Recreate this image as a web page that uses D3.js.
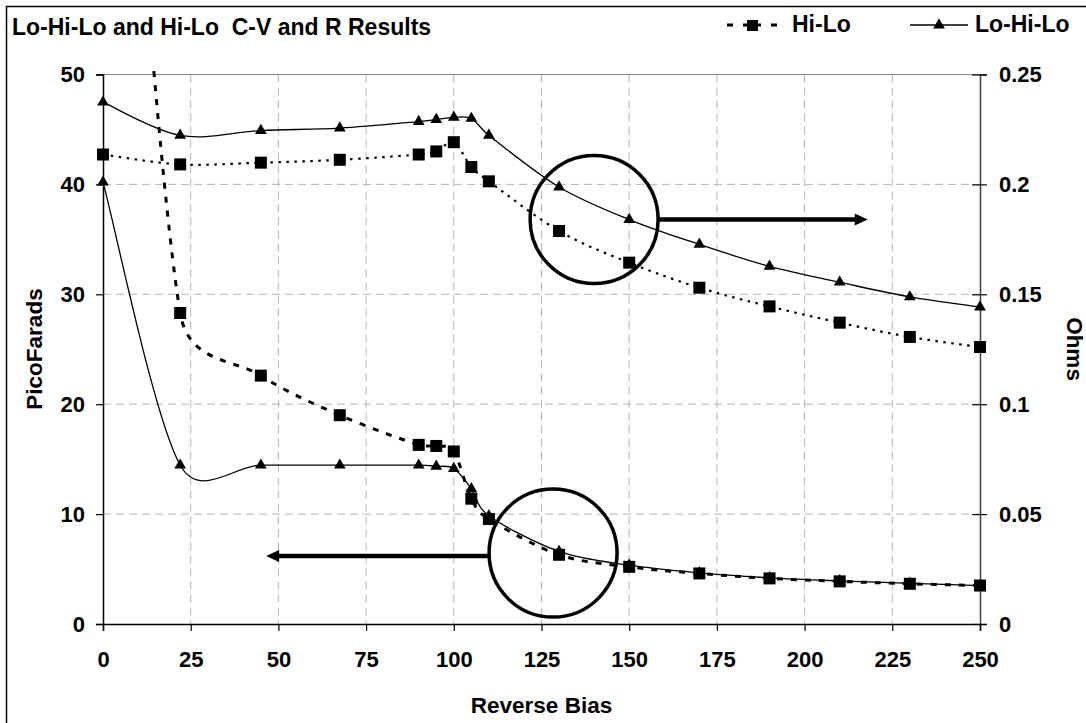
<!DOCTYPE html>
<html><head><meta charset="utf-8">
<script src="https://cdn.jsdelivr.net/npm/d3@7"></script>
<style>
body{margin:0;background:#fff}
text{font-family:"Liberation Sans",Arial,sans-serif;font-weight:bold;fill:#000}
</style>
</head><body><svg id="c" width="1086" height="723"></svg>
<script>
// ---- data ----
const bias = [0,22,45,67.5,90,95,100,105,110,130,150,170,190,210,230,250];
const hiLoC   = [110,28.3,22.6,19.0,16.3,16.2,15.7,11.4,9.55,6.3,5.2,4.6,4.15,3.88,3.66,3.5];
const loHiLoC = [40.2,14.45,14.45,14.45,14.45,14.35,14.15,12.3,9.85,6.6,5.35,4.65,4.2,3.92,3.7,3.5];
const hiLoR   = [0.2136,0.2091,0.2099,0.2112,0.2136,0.215,0.2192,0.2079,0.2014,0.1788,0.1644,0.153,0.1445,0.1371,0.1306,0.126];
const loHiLoR = [0.2374,0.2223,0.2245,0.2256,0.2286,0.2295,0.2305,0.2300,0.2223,0.1988,0.184,0.1727,0.1627,0.1555,0.1488,0.1442];
const xTicks = [0,25,50,75,100,125,150,175,200,225,250];
const yLeftTicks = [0,10,20,30,40,50];
const yRightTicks = [0,0.05,0.1,0.15,0.2,0.25];
const seriesNames = ["Hi-Lo","Lo-Hi-Lo"];
const titleText = "Lo-Hi-Lo and Hi-Lo  C-V and R Results";
// annotations: circle centre (bias, value on axis), arrow tip bias
const annotR = {cx:140, cy:0.184, tip:218};
const annotC = {cx:128.3, cy:6.45, ay:6.18, tip:46.5};

// ---- layout ----
const svg = d3.select("#c");
const L=103, R=980, T=74.5, B=624;
const x = d3.scaleLinear([0,250],[L,R]);
const yL = d3.scaleLinear([0,50],[B,T]);
const yR = d3.scaleLinear([0,0.25],[B,T]);

svg.append("rect").attr("x",6.5).attr("y",6.5).attr("width",1200).attr("height",800)
  .attr("fill","#fff").attr("stroke","#000").attr("stroke-width",1.5);

// grid
const grid = svg.append("g");
grid.selectAll("line.v").data(xTicks.filter(d=>d>0&&d<250)).join("line")
  .attr("x1",d=>x(d)).attr("x2",d=>x(d)).attr("y1",T).attr("y2",B)
  .attr("stroke","#b4b4b4").attr("stroke-dasharray","8,5");
grid.selectAll("line.h").data(yLeftTicks.filter(d=>d>0&&d<50)).join("line")
  .attr("y1",d=>yL(d)).attr("y2",d=>yL(d)).attr("x1",L).attr("x2",R)
  .attr("stroke","#b4b4b4").attr("stroke-dasharray","8,5");
grid.append("line").attr("x1",L).attr("x2",R).attr("y1",yL(50)).attr("y2",yL(50))
  .attr("stroke","#8c8c8c");

// axes
const fs = "22px";
const ax = svg.append("g").attr("transform",`translate(0,${B})`)
  .call(d3.axisBottom(x).tickValues(xTicks).tickSize(7).tickPadding(20).tickFormat(d3.format("d")));
const ayl = svg.append("g").attr("transform",`translate(${L},0)`)
  .call(d3.axisLeft(yL).tickValues(yLeftTicks).tickSize(7).tickPadding(11).tickFormat(d3.format("d")));
const ayr = svg.append("g").attr("transform",`translate(${R},0)`)
  .call(d3.axisRight(yR).tickValues(yRightTicks).tickSize(7).tickPadding(12).tickFormat(d=>String(+d.toFixed(2))));
ayr.selectAll(".tick line").attr("x1",-8);
[ax,ayl,ayr].forEach(g=>{
  g.selectAll(".domain").attr("stroke","#000").attr("stroke-width",1.5);
  g.selectAll(".tick line").attr("stroke","#000").attr("stroke-width",1.2);
  g.selectAll("text").attr("font-size",fs).attr("font-family",null);
});
ayr.select(".domain").attr("stroke","#404040");

// clip
svg.append("clipPath").attr("id","clip").append("rect")
  .attr("x",L-10).attr("y",T-6).attr("width",R-L+20).attr("height",B-T+16);

// spreadsheet-like smoothing: Bezier with 1/6 neighbour tangents, clamped to half the segment
function smoothPath(pts){
  const p = d3.path();
  const n = pts.length;
  const tan = pts.map((q,i)=>{
    const a = pts[Math.max(0,i-1)], b = pts[Math.min(n-1,i+1)];
    return [(b[0]-a[0])/6,(b[1]-a[1])/6];
  });
  const clamp=(v,len)=>{const m=Math.hypot(v[0],v[1]); const lim=0.5*len; return m>lim?[v[0]*lim/m,v[1]*lim/m]:v;};
  p.moveTo(pts[0][0],pts[0][1]);
  for(let i=0;i<n-1;i++){
    const a=pts[i], b=pts[i+1];
    const len=Math.hypot(b[0]-a[0],b[1]-a[1]);
    const t1=clamp(tan[i],len), t2=clamp(tan[i+1],len);
    p.bezierCurveTo(a[0]+t1[0],a[1]+t1[1],b[0]-t2[0],b[1]-t2[1],b[0],b[1]);
  }
  return p.toString();
}
function drawLine(vals, ys, opts){
  const pts = bias.map((b,i)=>[x(b), ys(vals[i])]);
  svg.append("path").attr("clip-path","url(#clip)")
    .attr("d", smoothPath(pts))
    .attr("fill","none").attr("stroke","#000")
    .attr("stroke-width",opts.w).attr("stroke-dasharray",opts.dash||null);
}
function drawSquares(vals, ys){
  svg.append("g").selectAll("rect").data(bias.map((b,i)=>[b,vals[i]]).filter(d=>ys(d[1])>=T-1))
    .join("rect").attr("x",d=>x(d[0])-6).attr("y",d=>ys(d[1])-6).attr("width",12).attr("height",12)
    .attr("fill","#000");
}
const tri = d3.symbol().type(d3.symbolTriangle).size(60);
function drawTriangles(vals, ys){
  svg.append("g").selectAll("path").data(bias.map((b,i)=>[b,vals[i]]))
    .join("path").attr("d",tri).attr("transform",d=>`translate(${x(d[0])},${ys(d[1])})`)
    .attr("fill","#000");
}

drawLine(hiLoR, yR, {w:2.2, dash:"2.5,5.5"});
drawLine(hiLoC, yL, {w:3, dash:"6,8"});
drawSquares(hiLoR, yR);
drawSquares(hiLoC, yL);
drawLine(loHiLoR, yR, {w:1.3});
drawLine(loHiLoC, yL, {w:1.3});
drawTriangles(loHiLoR, yR);
drawTriangles(loHiLoC, yL);

// annotations
const rad = 64;
function arrow(x1,x2,y){
  const dir = Math.sign(x2-x1);
  svg.append("line").attr("x1",x1).attr("x2",x2-dir*10).attr("y1",y).attr("y2",y)
    .attr("stroke","#000").attr("stroke-width",4.5);
  svg.append("path").attr("d",`M${x2},${y} L${x2-dir*13},${y-6} L${x2-dir*13},${y+6} Z`).attr("fill","#000");
}
svg.append("circle").attr("cx",x(annotR.cx)).attr("cy",yR(annotR.cy)).attr("r",rad)
  .attr("fill","none").attr("stroke","#000").attr("stroke-width",3.5);
arrow(x(annotR.cx)+rad, x(annotR.tip), yR(annotR.cy));
svg.append("circle").attr("cx",x(annotC.cx)).attr("cy",yL(annotC.cy)).attr("r",rad)
  .attr("fill","none").attr("stroke","#000").attr("stroke-width",3.5);
{
  const cy = yL(annotC.cy), ay = yL(annotC.ay);
  const xe = x(annotC.cx) - Math.sqrt(rad*rad - (ay-cy)*(ay-cy));
  arrow(xe, x(annotC.tip), ay);
}

// titles
svg.append("text").attr("x",12).attr("y",35).attr("font-size","23px")
  .style("white-space","pre").text(titleText);
svg.append("text").attr("x",(L+R)/2).attr("y",713).attr("text-anchor","middle")
  .attr("font-size","22.5px").text("Reverse Bias");
svg.append("text").attr("transform","translate(42,349) rotate(-90)").attr("text-anchor","middle")
  .attr("font-size","22.5px").text("PicoFarads");
svg.append("text").attr("transform","translate(1067,349) rotate(90)").attr("text-anchor","middle")
  .attr("font-size","22.5px").text("Ohms");

// legend
const lg = svg.append("g");
lg.append("line").attr("x1",727).attr("x2",777).attr("y1",25).attr("y2",25)
  .attr("stroke","#000").attr("stroke-width",3).attr("stroke-dasharray","6,10,18,10,6");
lg.append("rect").attr("x",747).attr("y",20).attr("width",11).attr("height",11).attr("fill","#000");
lg.append("text").attr("x",792).attr("y",32).attr("font-size","23px").text(seriesNames[0]);
lg.append("line").attr("x1",910).attr("x2",968).attr("y1",25).attr("y2",25)
  .attr("stroke","#000").attr("stroke-width",1.3);
lg.append("path").attr("d",tri).attr("transform","translate(939,25)").attr("fill","#000");
lg.append("text").attr("x",975).attr("y",32).attr("font-size","23px").text(seriesNames[1]);
</script>
</body></html>
